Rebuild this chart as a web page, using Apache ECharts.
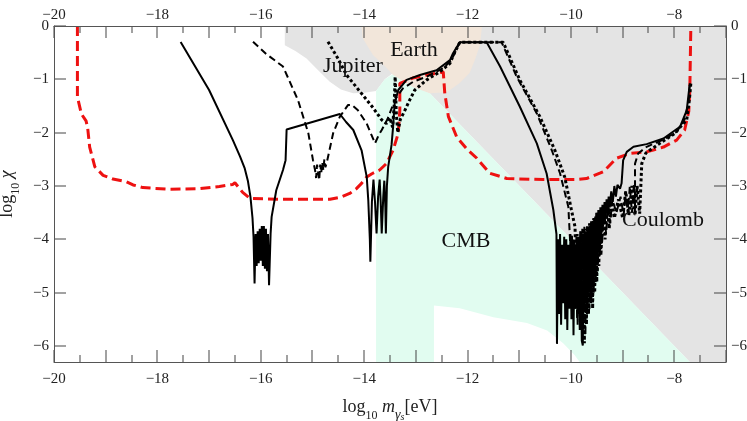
<!DOCTYPE html>
<html>
<head>
<meta charset="utf-8">
<script src="https://cdn.jsdelivr.net/npm/echarts@6.0.0/dist/echarts.min.js"></script>
<style>
html,body{margin:0;padding:0;background:#fff;}
#chart{width:747px;height:421px;}
</style>
</head>
<body>
<div id="chart"></div>
<script>
// ---- axis ranges & tick labels ----
const xRange = [-20, -7];
const yRange = [-6.3, 0];
const xTickLabels = [-20, -18, -16, -14, -12, -10, -8];
const xMajorTicks = [-20, -19, -18, -17, -16, -15, -14, -13, -12, -11, -10, -9, -8, -7];
const xMinorTicks = [-19.5, -18.5, -17.5, -16.5, -15.5, -14.5, -13.5, -12.5, -11.5, -10.5, -9.5, -8.5, -7.5];
const yTickValues = [0, -1, -2, -3, -4, -5, -6];

// ---- shaded regions (log10 m, log10 chi) ----
const grayRegion = [[-15.535,0],[-15.535,-0.36],[-15.33,-0.47],[-15.115,-0.61],[-14.9,-0.82],[-14.665,-1.045],[-14.45,-1.19],[-14.213,-1.263],[-14.0,-1.25],[-13.77,-1.22],[-13.6,-1.0],[-13.44,-0.88],[-13.06,-1.13],[-12.73,-1.26],[-7.7,-6.3],[-7,-6.3],[-7,0]];
const earthRegion = [[-14.05,0],[-14.03,-0.225],[-13.83,-0.545],[-13.56,-0.79],[-13.44,-0.92],[-13.06,-1.145],[-12.73,-1.26],[-12.40,-1.24],[-12.15,-1.07],[-11.96,-0.88],[-11.86,-0.64],[-11.76,-0.36],[-11.72,0]];
const cmbRegion = [[-13.77,-6.3],[-13.77,-1.22],[-13.6,-1.0],[-13.44,-0.9],[-13.06,-1.12],[-12.73,-1.26],[-7.7,-6.3],[-9.83,-6.3],[-9.93,-6.17],[-10.15,-5.95],[-10.46,-5.71],[-10.85,-5.57],[-11.5,-5.46],[-12.15,-5.29],[-12.65,-5.24],[-12.65,-6.3]];

// ---- curves ----
const redBound = [[-19.547,0],[-19.547,-1.33],[-19.47,-1.65],[-19.38,-1.78],[-19.35,-1.9],[-19.31,-2.27],[-19.21,-2.64],[-19.05,-2.80],[-18.86,-2.87],[-18.6,-2.92],[-18.47,-2.98],[-18.28,-3.03],[-17.82,-3.06],[-17.18,-3.05],[-16.8,-3.01],[-16.54,-2.97],[-16.50,-2.94],[-16.35,-3.12],[-16.21,-3.23],[-15.63,-3.25],[-14.66,-3.25],[-14.45,-3.21],[-14.28,-3.14],[-14.15,-3.05],[-14.05,-2.95],[-13.95,-2.83],[-13.85,-2.77],[-13.7,-2.70],[-13.57,-2.58],[-13.44,-2.33],[-13.34,-2.01],[-13.31,-1.58],[-13.31,-1.075],[-13.28,-1.045],[-13.06,-0.976],[-12.79,-0.92],[-12.54,-0.876],[-12.47,-0.858],[-12.44,-1.263],[-12.37,-1.70],[-12.21,-2.08],[-12.02,-2.30],[-11.82,-2.48],[-11.57,-2.76],[-11.24,-2.86],[-10.54,-2.88],[-9.89,-2.88],[-9.70,-2.86],[-9.44,-2.76],[-9.37,-2.73],[-9.12,-2.48],[-8.86,-2.39],[-8.535,-2.36],[-8.21,-2.27],[-7.955,-2.14],[-7.80,-1.95],[-7.72,-1.6],[-7.70,-1.2],[-7.68,0]];

const solidCurve = [[-17.55,-0.30],[-17.0,-1.2],[-16.54,-2.14],[-16.40,-2.45],[-16.31,-2.67],[-16.25,-2.9],[-16.2,-3.2],[-16.16,-3.6],[-16.14,-3.95],
[-16.12,-4.83],[-16.10,-3.9],[-16.08,-4.5],[-16.06,-3.85],[-16.04,-4.45],[-16.02,-3.8],[-16.0,-4.4],[-15.98,-3.75],[-15.96,-4.5],[-15.94,-3.75],[-15.92,-4.55],[-15.90,-3.8],[-15.88,-4.6],[-15.86,-3.9],[-15.84,-4.86],[-15.81,-3.9],[-15.79,-3.58],[-15.70,-3.08],[-15.57,-2.70],[-15.52,-2.515],[-15.50,-1.94],[-14.47,-1.65],[-14.35,-1.8],[-14.21,-1.95],[-14.05,-2.33],[-13.95,-2.83],[-13.92,-3.27],
[-13.89,-4.0],[-13.88,-4.42],[-13.85,-3.3],[-13.82,-2.88],[-13.79,-3.3],[-13.76,-3.89],[-13.73,-3.2],[-13.70,-2.88],[-13.68,-3.3],[-13.66,-3.89],[-13.63,-3.2],[-13.61,-2.9],[-13.59,-3.4],[-13.58,-3.89],[-13.56,-3.0],[-13.535,-2.64],[-13.47,-2.23],[-13.44,-1.89],[-13.41,-1.45],[-13.34,-1.20],[-13.18,-1.01],[-12.92,-0.92],[-12.60,-0.83],[-12.34,-0.64],[-12.28,-0.51],[-12.15,-0.306],[-11.63,-0.306],[-11.37,-0.76],[-10.99,-1.51],[-10.66,-2.20],[-10.47,-2.765],[-10.34,-3.45],[-10.28,-3.9],[-10.27,-5.96],
[-10.25,-4.0],[-10.23,-5.4],[-10.21,-3.9],[-10.19,-5.6],[-10.17,-4.1],[-10.15,-5.2],[-10.13,-3.95],[-10.11,-5.5],[-10.09,-4.0],[-10.07,-5.7],[-10.05,-4.1],[-10.03,-5.3],[-10.01,-3.9],[-9.99,-5.5],[-9.97,-4.0],[-9.95,-5.8],[-9.93,-4.1],[-9.91,-5.3],[-9.89,-3.95],[-9.87,-5.6],[-9.85,-4.0],[-9.83,-5.4],[-9.81,-3.9],[-9.79,-5.9],[-9.77,-5.99],[-9.75,-3.9],[-9.73,-5.2],[-9.71,-3.85],[-9.69,-5.4],[-9.67,-3.8],[-9.65,-5.0],[-9.63,-3.75],[-9.61,-5.2],[-9.59,-3.7],[-9.57,-4.9],[-9.55,-3.6],[-9.53,-4.7],[-9.51,-3.5],[-9.49,-4.4],[-9.47,-3.45],[-9.45,-4.2],[-9.43,-3.4],[-9.41,-3.9],[-9.39,-3.35],[-9.37,-3.7],[-9.35,-3.3],[-9.33,-3.6],[-9.31,-3.25],[-9.29,-3.5],[-9.27,-3.2],[-9.25,-3.4],[-9.22,-3.1],[-9.19,-3.3],[-9.16,-3.0],[-9.13,-3.2],[-9.10,-2.98],[-9.05,-3.05],[-9.02,-2.95],[-8.99,-2.52],[-8.92,-2.36],[-8.79,-2.265],[-8.535,-2.215],[-8.21,-2.11],[-7.89,-1.89],[-7.76,-1.58],[-7.70,-1.075]];

const dashedCurve = [[-16.15,-0.295],[-15.9,-0.52],[-15.57,-0.76],[-15.535,-0.79],[-15.28,-1.39],[-15.08,-2.01],[-14.99,-2.515],[-14.95,-2.7],[-14.93,-2.85],[-14.91,-2.6],[-14.89,-2.75],[-14.87,-2.89],[-14.85,-2.6],[-14.83,-2.75],[-14.81,-2.55],[-14.79,-2.7],[-14.77,-2.5],[-14.75,-2.65],[-14.72,-2.55],[-14.70,-2.58],[-14.60,-2.01],[-14.47,-1.70],[-14.31,-1.48],[-14.24,-1.48],[-14.12,-1.58],[-13.95,-1.83],[-13.79,-2.20],[-13.72,-2.05],[-13.66,-1.95],[-13.55,-1.75],[-13.45,-1.5],[-13.37,-1.33],[-13.25,-1.17],[-13.05,-1.045],[-12.79,-0.95],[-12.47,-0.79],[-12.31,-0.64],[-12.28,-0.575],[-12.15,-0.306],[-11.34,-0.306],[-11.05,-0.95],[-10.66,-1.64],[-10.37,-2.33],[-10.21,-2.765],[-10.05,-3.39],[-10.02,-3.955],
[-10.0,-4.6],[-9.98,-3.9],[-9.96,-5.0],[-9.94,-4.0],[-9.92,-5.3],[-9.90,-4.1],[-9.88,-5.5],[-9.86,-3.95],[-9.84,-5.2],[-9.82,-3.85],[-9.80,-5.6],[-9.78,-3.8],[-9.76,-5.5],[-9.74,-3.75],[-9.72,-5.8],[-9.70,-3.9],[-9.68,-5.4],[-9.66,-3.8],[-9.64,-5.3],[-9.62,-3.7],[-9.60,-5.1],[-9.58,-3.65],[-9.56,-5.0],[-9.54,-3.6],[-9.52,-4.8],[-9.50,-3.55],[-9.48,-4.6],[-9.46,-3.5],[-9.44,-4.3],[-9.42,-3.45],[-9.40,-4.1],[-9.36,-3.4],[-9.32,-3.9],[-9.28,-3.3],[-9.24,-3.7],[-9.20,-3.25],[-9.12,-3.5],[-9.04,-3.2],[-8.98,-3.55],[-8.94,-3.1],[-8.90,-3.5],[-8.86,-3.0],[-8.82,-3.5],[-8.78,-2.95],[-8.76,-3.52],[-8.76,-2.58],[-8.70,-2.39],[-8.535,-2.265],[-8.21,-2.13],[-7.95,-1.98],[-7.80,-1.75],[-7.72,-1.4],[-7.70,-1.075]];

const dottedCurve = [[-14.70,-0.295],[-14.5,-0.62],[-14.34,-0.92],[-14.08,-1.23],[-13.83,-1.53],[-13.66,-1.76],[-13.57,-1.83],[-13.50,-1.72],[-13.45,-1.9],[-13.42,-1.5],[-13.40,-0.95],[-13.38,-1.6],[-13.35,-2.0],[-13.30,-1.75],[-13.22,-1.6],[-13.12,-1.39],[-13.02,-1.20],[-12.79,-1.01],[-12.54,-0.86],[-12.34,-0.70],[-12.28,-0.56],[-12.15,-0.306],[-11.31,-0.306],[-10.99,-1.01],[-10.60,-1.70],[-10.31,-2.33],[-10.12,-2.83],[-9.99,-3.45],[-9.92,-3.77],
[-9.90,-4.8],[-9.88,-3.9],[-9.86,-5.4],[-9.84,-4.0],[-9.82,-5.7],[-9.80,-3.85],[-9.78,-5.5],[-9.76,-3.9],[-9.74,-5.95],[-9.72,-3.8],[-9.70,-5.6],[-9.68,-3.75],[-9.66,-5.4],[-9.64,-3.7],[-9.62,-5.2],[-9.60,-3.65],[-9.58,-5.3],[-9.56,-3.6],[-9.54,-5.0],[-9.52,-3.55],[-9.50,-4.8],[-9.48,-3.5],[-9.46,-4.5],[-9.44,-3.45],[-9.42,-4.3],[-9.38,-3.4],[-9.34,-4.0],[-9.30,-3.35],[-9.26,-3.8],[-9.22,-3.3],[-9.16,-3.6],[-9.08,-3.25],[-9.0,-3.6],[-8.94,-3.1],[-8.88,-3.55],[-8.82,-3.0],[-8.76,-3.55],[-8.72,-3.0],[-8.67,-3.52],[-8.63,-2.58],[-8.55,-2.38],[-8.28,-2.20],[-8.0,-2.02],[-7.76,-1.76],[-7.71,-1.4],[-7.68,-1.075]];

// ---- styling ----
const SERIF = "'Liberation Serif','DejaVu Serif',serif";
const TICK_COLOR = '#444';
const minusFmt = v => (v < 0 ? '\u2212' + Math.abs(v) : String(v));

function regionSeries(points, color) {
  return {
    type: 'custom', coordinateSystem: 'cartesian2d', silent: true, z: 1,
    data: [points[0]],
    renderItem: (params, api) => ({
      type: 'polygon',
      shape: { points: points.map(p => api.coord(p)) },
      style: { fill: color }
    })
  };
}
function curveSeries(data, color, width, type) {
  return {
    type: 'line', data: data, symbol: 'none', showSymbol: false, silent: true,
    lineStyle: { color: color, width: width, type: type },
    z: 5
  };
}
// inward frame ticks on all four sides, as thin filled bars placed through the axes' scales
function tickSeries() {
  return {
    type: 'custom', coordinateSystem: 'cartesian2d', silent: true, z: 8,
    data: [[xRange[0], yRange[0]]],
    renderItem: (params, api) => {
      const children = [];
      const bar = (x, y, w, h) => children.push({ type: 'rect', shape: { x: x, y: y, width: w, height: h }, style: { fill: TICK_COLOR } });
      const addX = (v, len) => {
        const b = api.coord([v, yRange[0]]), t = api.coord([v, yRange[1]]);
        const x = Math.round(b[0]) - 0.5;
        bar(x, b[1] - len, 1, len);
        bar(x, t[1], 1, len);
      };
      xMajorTicks.forEach(v => addX(v, 12));
      xMinorTicks.forEach(v => addX(v, 7));
      yTickValues.forEach(v => {
        const l = api.coord([xRange[0], v]), r = api.coord([xRange[1], v]);
        const y = Math.round(l[1]) - 0.5;
        bar(l[0], y, 12, 1);
        bar(r[0] - 12, y, 12, 1);
      });
      return { type: 'group', children: children };
    }
  };
}

const axisLineStyle = { show: true, onZero: false, lineStyle: { color: '#555', width: 1 } };
function xAxisDef(pos, withName) {
  const a = {
    type: 'value', position: pos, min: xRange[0], max: xRange[1], interval: 1, z: 10,
    axisLine: axisLineStyle,
    axisTick: { show: false },
    minorTick: { show: false },
    splitLine: { show: false },
    axisLabel: { customValues: xTickLabels, formatter: minusFmt, fontFamily: SERIF, fontSize: 15, color: '#222', margin: pos === 'top' ? 3 : 10 }
  };
  if (withName) {
    a.name = '{n|log}{s|10}{n| }{i|m}{g|γ}{ss|s}{n|[eV]}';
    a.nameLocation = 'middle';
    a.nameGap = 36;
    a.nameTextStyle = {
      fontFamily: SERIF, color: '#222',
      rich: {
        n: { fontFamily: SERIF, fontSize: 18, lineHeight: 24, verticalAlign: 'top', color: '#222' },
        i: { fontFamily: SERIF, fontSize: 18, lineHeight: 24, verticalAlign: 'top', fontStyle: 'italic', color: '#222' },
        s: { fontFamily: SERIF, fontSize: 12, lineHeight: 14, verticalAlign: 'bottom', color: '#222' },
        g: { fontFamily: SERIF, fontSize: 14, lineHeight: 18, verticalAlign: 'bottom', fontStyle: 'italic', color: '#222' },
        ss: { fontFamily: SERIF, fontSize: 10, lineHeight: 12, verticalAlign: 'bottom', fontStyle: 'italic', color: '#222' }
      }
    };
  }
  return a;
}
function yAxisDef(pos, withName) {
  const a = {
    type: 'value', position: pos, min: yRange[0], max: yRange[1], z: 10,
    axisLine: axisLineStyle,
    axisTick: { show: false },
    splitLine: { show: false },
    axisLabel: { customValues: yTickValues, formatter: minusFmt, fontFamily: SERIF, fontSize: 15, color: '#222', margin: 5 }
  };
  if (withName) {
    a.name = '{n|log}{s|10}{n| }{i|χ}';
    a.nameLocation = 'middle';
    a.nameRotate = 90;
    a.nameGap = 29;
    a.nameTextStyle = {
      fontFamily: SERIF, color: '#222',
      rich: {
        n: { fontFamily: SERIF, fontSize: 18, lineHeight: 24, verticalAlign: 'top', color: '#222' },
        i: { fontFamily: SERIF, fontSize: 18, lineHeight: 24, verticalAlign: 'top', fontStyle: 'italic', color: '#222' },
        s: { fontFamily: SERIF, fontSize: 12, lineHeight: 14, verticalAlign: 'bottom', color: '#222' }
      }
    };
  }
  return a;
}

function regionLabel(text, x, y) {
  return { type: 'text', x: x, y: y, z: 10, silent: true,
    style: { text: text, font: '22px ' + SERIF, fill: '#111', textAlign: 'center', textVerticalAlign: 'middle', align: 'center', verticalAlign: 'middle' } };
}

const chart = echarts.init(document.getElementById('chart'));
chart.setOption({
  animation: false,
  grid: { left: 54, right: 21, top: 26, bottom: 59, outerBoundsMode: 'none' },
  xAxis: [xAxisDef('bottom', true), xAxisDef('top', false)],
  yAxis: [yAxisDef('left', true), yAxisDef('right', false)],
  series: [
    regionSeries(grayRegion, '#e4e4e4'),
    regionSeries(cmbRegion, '#e1fcf0'),
    regionSeries(earthRegion, '#f2e6da'),
    curveSeries(redBound, '#ee1111', 3, [10, 5]),
    curveSeries(solidCurve, '#000000', 2, 'solid'),
    curveSeries(dashedCurve, '#000000', 2, [7, 4]),
    curveSeries(dottedCurve, '#000000', 3, [3, 2.5]),
    tickSeries()
  ],
  graphic: [
    regionLabel('Earth', 414, 50),
    regionLabel('Jupiter', 353, 66),
    regionLabel('CMB', 466, 241),
    regionLabel('Coulomb', 663, 220)
  ]
});
</script>
</body>
</html>
